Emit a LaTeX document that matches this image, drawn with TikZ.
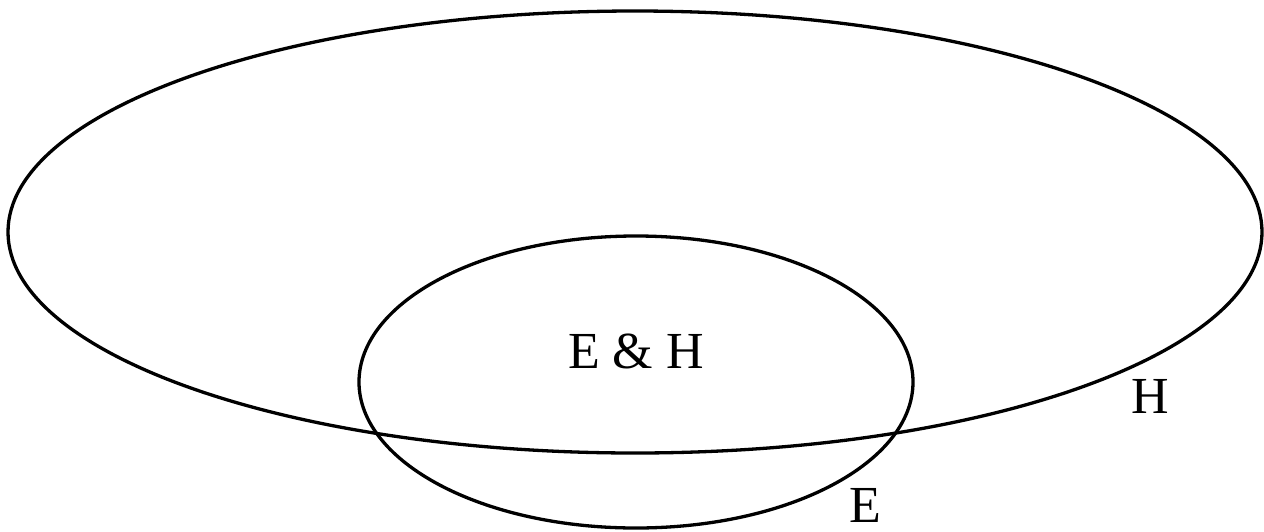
\documentclass[tikz,border=0pt]{standalone}
\usepackage{fontspec}
\setmainfont{Liberation Serif}
\begin{document}
\begin{tikzpicture}[x=1pt,y=-1pt,
  setline/.style={line width=3.3pt},
  lbl/.style={inner sep=0pt,anchor=base,font=\fontsize{52}{60}\selectfont}]
\useasboundingbox (0,0) rectangle (1264,531);
\draw[setline] (635,232) ellipse [x radius=627, y radius=221];
\draw[setline] (636,382) ellipse [x radius=277, y radius=146];
\node[lbl] (eh) at (636,368) {E \& H};
\node[lbl] (h) at (1150,413) {H};
\node[lbl] (e) at (865,522) {E};
\end{tikzpicture}
\end{document}
